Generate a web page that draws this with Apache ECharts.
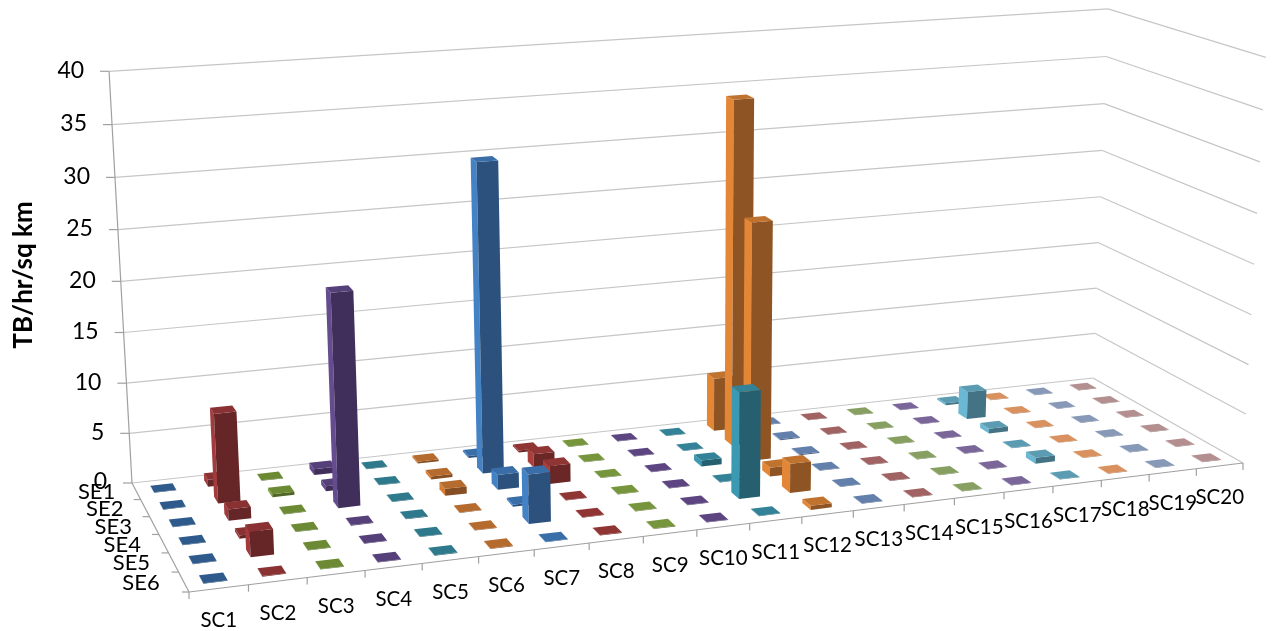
<!DOCTYPE html>
<html>
<head>
<meta charset="utf-8">
<style>
html, body { margin: 0; padding: 0; background: #fff; }
#main { width: 1272px; height: 631px; }
</style>
<script src="https://cdn.jsdelivr.net/npm/echarts@6/dist/echarts.min.js"></script>
</head>
<body>
<div id="main"></div>
<script>
// chart values
var scLabels = ['SC1','SC2','SC3','SC4','SC5','SC6','SC7','SC8','SC9','SC10','SC11','SC12','SC13','SC14','SC15','SC16','SC17','SC18','SC19','SC20'];
var seLabels = ['SE1','SE2','SE3','SE4','SE5','SE6'];
var yTicks = [0,5,10,15,20,25,30,35,40];
var yTitle = 'TB/hr/sq km';
var se1 = [0.05,0.7,0.05,0.6,0.05,0.2,0.2,0.2,0.05,0.05,0.05,5.5,0.05,0.05,0.05,0.05,0.2,0.05,0.05,0.05];
var se2 = [0.05,8.8,0.3,0.5,0.05,0.3,30.8,1.4,0.05,0.05,0.05,35,0.1,0.05,0.05,0.05,2.9,0.05,0.05,0.05];
var se3 = [0.05,1.1,0.05,20.8,0.05,0.7,1.5,1.8,0.05,0.05,0.6,24,0.1,0.05,0.05,0.05,0.5,0.05,0.05,0.05];
var se4 = [0.05,0.3,0.05,0.05,0.05,0.05,0.2,0.05,0.05,0.05,0.05,0.9,0.05,0.05,0.05,0.05,0.05,0.05,0.05,0.05];
var se5 = [0.05,2.4,0.05,0.05,0.05,0.05,4.8,0.05,0.05,0.05,10.5,2.9,0.05,0.05,0.05,0.05,0.6,0.05,0.05,0.05];
var se6 = [0.05,0.05,0.05,0.05,0.05,0.05,0.05,0.05,0.05,0.05,0.05,0.4,0.05,0.05,0.05,0.05,0.05,0.05,0.05,0.05];
var rows = [se1,se2,se3,se4,se5,se6];

// colour of the top face for each SC column
var topColors = ['#2f5a8c','#8a3233','#6b8a33','#564079','#2e7a8c','#b56a2e',
                 '#3a6ea8','#8f3533','#77953c','#5c4580','#338297','#c0722f',
                 '#6280ab','#a06262','#87a062','#7a6699','#5b9cb2','#d8915f','#8899b8','#b38f8f'];

// floor corners and vertical vanishing point of the 3D box, in pixels
var BL = [132,483], BR = [1093,378], FR = [1243,463], FL = [189,592];
var VP = [684,10390];
var K = -0.0399 / 40; // perspective weight per value unit
var FONT = 'Lato, "Open Sans", sans-serif';

var dx1 = BR[0]-FR[0], dx2 = FL[0]-FR[0], sx = BL[0]-BR[0]+FR[0]-FL[0];
var dy1 = BR[1]-FR[1], dy2 = FL[1]-FR[1], sy = BL[1]-BR[1]+FR[1]-FL[1];
var den = dx1*dy2 - dx2*dy1;
var g = (sx*dy2 - dx2*sy) / den;
var h = (dx1*sy - sx*dy1) / den;

// u: 0..1 left to right, v: 0..1 back to front, val: value on the y axis
function project(u, v, val) {
    var w = g*u + h*v + 1;
    var X = (BR[0]-BL[0]+g*BR[0])*u + (FL[0]-BL[0]+h*FL[0])*v + BL[0];
    var Y = (BR[1]-BL[1]+g*BR[1])*u + (FL[1]-BL[1]+h*FL[1])*v + BL[1];
    var kh = K*val;
    return [(X + kh*VP[0])/(w + kh), (Y + kh*VP[1])/(w + kh)];
}

// multiply a colour's channels by f
function shade(color, f) {
    var c = echarts.color.parse(color);
    return 'rgb(' + Math.min(255, Math.round(c[0]*f)) + ',' + Math.min(255, Math.round(c[1]*f)) + ',' + Math.min(255, Math.round(c[2]*f)) + ')';
}

function line(a, b, color) {
    return {
        type: 'line',
        shape: {x1: a[0], y1: a[1], x2: b[0], y2: b[1]},
        style: {stroke: color, lineWidth: 1.2},
        silent: true
    };
}
function poly(points, color) {
    return {type: 'polygon', shape: {points: points}, style: {fill: color}, silent: true};
}
function label(text, x, y, size, align) {
    return {
        type: 'text',
        x: x, y: y,
        style: {text: text, fill: '#000', font: size + 'px ' + FONT, align: align, verticalAlign: 'middle'},
        silent: true
    };
}

var GRID = '#c6c6c6', AXIS = '#a0a0a0';

function renderWall(params, api) {
    var val = api.value(0);
    var a = project(0,0,val), b = project(1,0,val), c = project(1,1,val);
    var out = [line(a,b,GRID), line(b,c,GRID), line([a[0]-9,a[1]],a,AXIS),
        label(String(val), a[0]-25, a[1]-1, 23, 'right')];
    return {type: 'group', children: out};
}

function renderSc(params, api) {
    var i = api.value(0);
    var t = project(i/20,1,0), m = project((i+0.5)/20,1,0), out = [];
    out.push(line(t,[t[0],t[1]+7],AXIS));
    if (i < 20) out.push(label(scLabels[i], m[0], m[1]+32, 20.5, 'center'));
    return {type: 'group', children: out};
}

function renderSe(params, api) {
    var j = api.value(0);
    var t = project(0,j/6,0), m = project(0,(j+0.5)/6,0), out = [];
    if (j > 0) out.push(line([t[0]-7,t[1]],t,AXIS));
    if (j < 6) out.push(label(seLabels[j], m[0]-21-j*0.6, m[1]+1, 22, 'right'));
    return {type: 'group', children: out};
}

var BAR_W = 0.41, BAR_D = 0.4;

function renderBar(params, api) {
    var i = api.value(0), j = api.value(1), val = api.value(2);
    var u0 = (i+0.5-BAR_W/2)/20, u1 = (i+0.5+BAR_W/2)/20;
    var v0 = (j+0.5-BAR_D/2)/6, v1 = (j+0.5+BAR_D/2)/6;
    var base = topColors[i];
    return {
        type: 'group',
        children: [
            poly([project(u0,v0,0),project(u0,v1,0),project(u0,v1,val),project(u0,v0,val)], shade(base,1.18)),
            poly([project(u0,v1,0),project(u1,v1,0),project(u1,v1,val),project(u0,v1,val)], shade(base,0.74)),
            poly([project(u0,v0,val),project(u1,v0,val),project(u1,v1,val),project(u0,v1,val)], base)
        ]
    };
}

var barData = [];
rows.forEach(function (row, j) {
    for (var i = row.length-1; i >= 0; i--) barData.push([i, j, row[i]]);
});

var chart = echarts.init(document.getElementById('main'), null, {renderer: 'canvas'});
chart.setOption({
    backgroundColor: '#fff',
    animation: false,
    series: [
        {type: 'custom', coordinateSystem: 'none', silent: true, data: yTicks.map(function (v) { return [v]; }), renderItem: renderWall, z: 1},
        {
            type: 'custom', coordinateSystem: 'none', silent: true, data: [0], z: 1,
            renderItem: function () {
                return {type: 'group', children: [
                    line(project(0,0,0), project(0,0,40), AXIS),
                    line(project(0,0,0), project(0,1,0), AXIS),
                    line(project(0,1,0), project(1,1,0), AXIS)
                ]};
            }
        },
        {type: 'custom', coordinateSystem: 'none', silent: true, data: scLabels.concat(['']).map(function (s, i) { return [i]; }), renderItem: renderSc, z: 1},
        {type: 'custom', coordinateSystem: 'none', silent: true, data: seLabels.concat(['']).map(function (s, i) { return [i]; }), renderItem: renderSe, z: 1},
        {type: 'custom', coordinateSystem: 'none', silent: true, data: barData, renderItem: renderBar, z: 2}
    ],
    graphic: [{
        type: 'text',
        x: 24, y: 275,
        rotation: Math.PI/2,
        style: {text: yTitle, fill: '#000', font: 'bold 26px ' + FONT, align: 'center', verticalAlign: 'middle'}
    }]
});
</script>
</body>
</html>
